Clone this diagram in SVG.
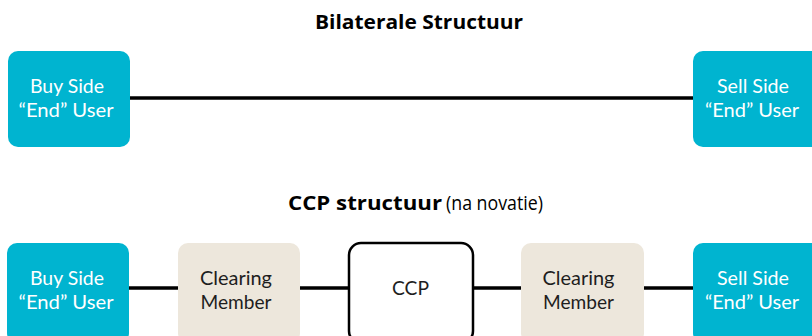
<svg xmlns="http://www.w3.org/2000/svg" width="812" height="336" viewBox="0 0 812 336">
<style>
.title{font-family:"Open Sans","Liberation Sans",sans-serif;font-weight:700;font-size:20px;fill:#000}
.sub{font-weight:400}
.teal{fill:#00B4D0}
.beige{fill:#EDE7DC}
.ccp{fill:#fff;stroke:#000;stroke-width:2.5}
.lbl{font-family:Lato,"Open Sans","Liberation Sans",sans-serif;font-weight:400;font-size:20px;text-anchor:middle}
.w{fill:#fff}
.d{fill:#1e1e1e}
.conn{stroke:#000;stroke-width:3.5;fill:none}
</style>
<text class="title" x="315" y="29" textLength="208" lengthAdjust="spacingAndGlyphs">Bilaterale Structuur</text>
<text class="title" x="288" y="210" textLength="154" lengthAdjust="spacingAndGlyphs">CCP structuur</text>
<text class="title sub" x="446" y="210" textLength="97" lengthAdjust="spacingAndGlyphs">(na novatie)</text>
<g id="connectors">
<line class="conn" x1="130" y1="98" x2="693" y2="98"/>
<line class="conn" x1="128" y1="288" x2="178" y2="288"/>
<line class="conn" x1="300" y1="288" x2="349" y2="288"/>
<line class="conn" x1="473" y1="288" x2="521" y2="288"/>
<line class="conn" x1="644" y1="288" x2="693" y2="288"/>
</g>
<g id="buy-top"><rect class="teal" x="8" y="51" width="122" height="96" rx="10"/>
<text class="lbl w" x="67" y="93" textLength="74" lengthAdjust="spacingAndGlyphs">Buy Side</text><text class="lbl w" x="66" y="117" textLength="95" lengthAdjust="spacingAndGlyphs">“End” User</text></g>
<g id="sell-top"><rect class="teal" x="693" y="51" width="128" height="96" rx="10"/>
<text class="lbl w" x="753" y="93" textLength="72" lengthAdjust="spacingAndGlyphs">Sell Side</text><text class="lbl w" x="752" y="117" textLength="94" lengthAdjust="spacingAndGlyphs">“End” User</text></g>
<g id="buy-bottom"><rect class="teal" x="7" y="243" width="122" height="100" rx="10"/>
<text class="lbl w" x="67" y="285" textLength="74" lengthAdjust="spacingAndGlyphs">Buy Side</text><text class="lbl w" x="66" y="309" textLength="95" lengthAdjust="spacingAndGlyphs">“End” User</text></g>
<g id="cm-left"><rect class="beige" x="178" y="243" width="122" height="100" rx="10"/>
<text class="lbl d" x="236" y="285" textLength="72" lengthAdjust="spacingAndGlyphs">Clearing</text><text class="lbl d" x="236" y="309" textLength="71" lengthAdjust="spacingAndGlyphs">Member</text></g>
<g id="ccp"><rect class="ccp" x="349" y="243" width="124" height="100" rx="12"/>
<text class="lbl d" x="410.5" y="295" textLength="37" lengthAdjust="spacingAndGlyphs">CCP</text></g>
<g id="cm-right"><rect class="beige" x="521" y="243" width="123" height="100" rx="10"/>
<text class="lbl d" x="578.5" y="285" textLength="72" lengthAdjust="spacingAndGlyphs">Clearing</text><text class="lbl d" x="578.5" y="309" textLength="71" lengthAdjust="spacingAndGlyphs">Member</text></g>
<g id="sell-bottom"><rect class="teal" x="693" y="243" width="128" height="100" rx="10"/>
<text class="lbl w" x="753" y="285" textLength="72" lengthAdjust="spacingAndGlyphs">Sell Side</text><text class="lbl w" x="752" y="309" textLength="94" lengthAdjust="spacingAndGlyphs">“End” User</text></g>
</svg>
